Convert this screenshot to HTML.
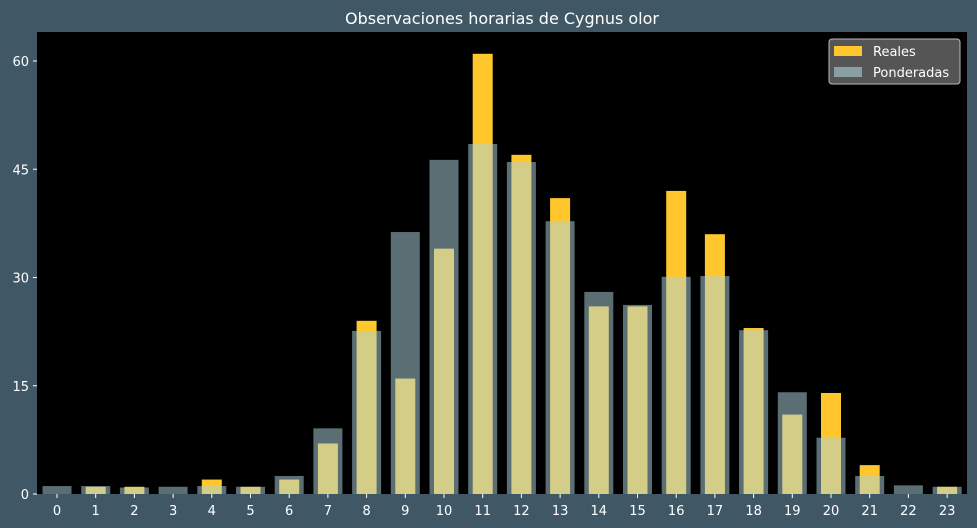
<!DOCTYPE html>
<html><head><meta charset="utf-8"><style>
body{margin:0;background:#405866;}
svg{display:block;font-family:"DejaVu Sans","Liberation Sans",sans-serif;}
</style></head><body>
<svg id="chart" width="977" height="528">
<rect width="977" height="528" fill="#405866"/>
<text x="502" y="24" fill="#fff" font-size="16" text-anchor="middle">Observaciones horarias de Cygnus olor</text>
<rect x="37" y="32" width="930" height="462" fill="#000"/>
<g id="bars"></g>
<g id="axes"></g>
<g>
<rect x="829" y="39" width="131" height="45" rx="3" fill="#555" stroke="#bbb" stroke-width="1"/>
<rect x="834" y="46" width="28" height="10" fill="#ffc72c"/>
<text x="873" y="56" fill="#fff" font-size="13">Reales</text>
<rect x="834" y="67" width="28" height="10" fill="#8a9ea3"/>
<text x="873" y="77" fill="#fff" font-size="13">Ponderadas</text>
</g>
</svg>
<script>
const hours=[0,1,2,3,4,5,6,7,8,9,10,11,12,13,14,15,16,17,18,19,20,21,22,23];
const reales=[0,1,1,0,2,1,2,7,24,16,34,61,47,41,26,26,42,36,23,11,14,4,0,1];
const ponderadas=[1.1,1.1,0.9,1.0,1.1,1.0,2.5,9.1,22.6,36.3,46.3,48.5,46,37.8,28,26.2,30.1,30.2,22.7,14.1,7.8,2.5,1.2,1.0];
const yTicks=[0,15,30,45,60];
const NS="http://www.w3.org/2000/svg";
const x=i=>57+i*38.7;
const y=v=>494-v*(433/60);
const bars=document.getElementById('bars'),axes=document.getElementById('axes');
function mk(tag,attrs,parent){const e=document.createElementNS(NS,tag);for(const k in attrs)e.setAttribute(k,attrs[k]);parent.appendChild(e);return e;}
hours.forEach((h,i)=>{
  const r=mk('rect',{x:x(i)-10,y:y(reales[i]),width:20,height:494-y(reales[i]),fill:'#ffc72c'},bars);
  
  
});
hours.forEach((h,i)=>{
  const r=mk('rect',{x:x(i)-14.5,y:y(ponderadas[i]),width:29,height:494-y(ponderadas[i]),fill:'rgba(173,211,221,0.52)'},bars);
  
  
});
hours.forEach((h,i)=>{
  mk('line',{x1:x(i),x2:x(i),y1:494,y2:498,stroke:'#fff'},axes);
  const t=mk('text',{x:x(i),y:515,fill:'#fff','font-size':13,'text-anchor':'middle'},axes);
  t.textContent=h;
  
  
});
yTicks.forEach(v=>{
  mk('line',{x1:33,x2:37,y1:y(v),y2:y(v),stroke:'#fff'},axes);
  const t=mk('text',{x:29,y:y(v)+5,fill:'#fff','font-size':13,'text-anchor':'end'},axes);
  t.textContent=v;
  
  
});
</script>
</body></html>
